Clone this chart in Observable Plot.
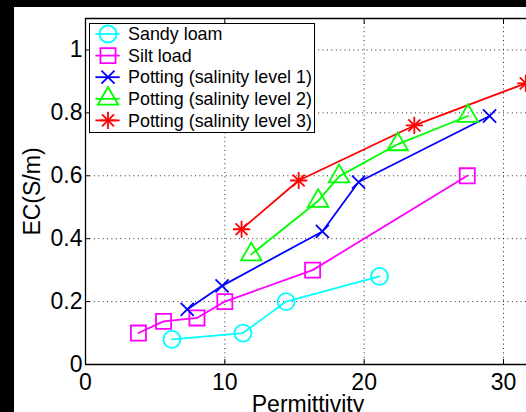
<!DOCTYPE html>
<html><head><meta charset="utf-8">
<script src="https://cdn.jsdelivr.net/npm/d3@7"></script>
<script src="https://cdn.jsdelivr.net/npm/@observablehq/plot@0.6"></script>
<style>
html,body{margin:0;padding:0;background:#000;overflow:hidden;width:526px;height:412px;}
#fig{position:absolute;left:14px;top:7px;width:512px;height:405px;background:#fff;}
#legend{position:absolute;left:89px;top:23px;width:226px;height:110px;box-sizing:border-box;border:1.3px solid #000;background:#fff;}
#legend svg{display:block;}
</style></head><body>
<div id="fig"></div>
<div id="legend"></div>
<script>
// ---- data ----
const seriesNames = ["Sandy loam", "Silt load", "Potting (salinity level 1)", "Potting (salinity level 2)", "Potting (salinity level 3)"];
const seriesColors = ["#00ffff", "#ff00ff", "#0000ff", "#00ff00", "#ff0000"];

const sandyX = [6.2, 11.3, 14.4, 21.1];
const sandyY = [0.08, 0.10, 0.20, 0.28];
const siltX = [3.8, 5.6, 8.0, 10.0, 16.3, 27.4];
const siltY = [0.10, 0.137, 0.148, 0.20, 0.30, 0.60];
const pot1X = [7.3, 9.8, 17.0, 19.6, 29.0];
const pot1Y = [0.175, 0.25, 0.423, 0.58, 0.79];
const pot2X = [11.9, 16.7, 18.2, 22.4, 27.45];
const pot2Y = [0.35, 0.52, 0.598, 0.70, 0.79];
const pot3X = [11.2, 15.3, 23.6, 31.6];
const pot3Y = [0.43, 0.585, 0.76, 0.894];

const xTicks = [0, 10, 20, 30];
const yTicks = [0, 0.2, 0.4, 0.6, 0.8, 1];
const xLabel = "Permittivity";
const yLabel = "EC(S/m)";

// ---- build table ----
const allX = [sandyX, siltX, pot1X, pot2X, pot3X];
const allY = [sandyY, siltY, pot1Y, pot2Y, pot3Y];
const data = seriesNames.flatMap((name, s) => allX[s].map((x, i) => ({series: name, x, y: allY[s][i]})));
const of = name => data.filter(d => d.series === name);

// marker styles per series (symbol layers)
const markerStyles = [
  [{symbol: "circle", r: 8.5}],
  [{symbol: "square", r: 8.5}],
  [{symbol: "times", r: 6}],
  [{symbol: "triangle", r: 7.6}],
  [{symbol: "plus", r: 5.6}, {symbol: "times", r: 5.5}]
];

const FONT = '"Liberation Sans", Arial, Helvetica, sans-serif';
const dotted = {stroke: "#000", strokeWidth: 1, strokeDasharray: "1,3.4", strokeOpacity: 0.85};

const marks = [
  Plot.ruleX(xTicks.filter(d => d > 0), dotted),
  Plot.ruleY(yTicks.filter(d => d > 0), dotted),
  Plot.line(data, {x: "x", y: "y", z: "series", stroke: "series", strokeWidth: 1.8}),
];
seriesNames.forEach((name, s) => {
  markerStyles[s].forEach(m => {
    marks.push(Plot.dot(of(name), {x: "x", y: "y", stroke: "series", fill: "none", symbol: m.symbol, r: m.r, strokeWidth: 1.8}));
  });
});
marks.push(
  Plot.ruleX([0], {stroke: "#000", strokeWidth: 1.3}),
  Plot.ruleY([0], {stroke: "#000", strokeWidth: 1.3}),
  Plot.ruleY([1.1], {stroke: "#000", strokeWidth: 1.3}),
  Plot.axisX({ticks: xTicks, tickSize: -5, tickPadding: 14, fontSize: 23, label: null, tickFormat: d => String(d)}),
  Plot.axisX({anchor: "top", ticks: xTicks, tickSize: -5, label: null, tickFormat: () => ""}),
  Plot.axisY({ticks: yTicks, tickSize: -5, tickPadding: 8, fontSize: 23, label: null, tickFormat: d => String(d)}),
  Plot.text([yLabel], {frameAnchor: "left", rotate: -90, dx: -46, lineAnchor: "bottom", textAnchor: "middle", fontSize: 23, fill: "#000"}),
  Plot.text([xLabel], {frameAnchor: "bottom", dx: 2, dy: 47, lineAnchor: "bottom", textAnchor: "middle", fontSize: 23, fill: "#000"})
);

const chart = Plot.plot({
  width: 512,
  height: 405,
  marginLeft: 71,
  marginRight: 0,
  marginTop: 11,
  marginBottom: 48,
  style: {fontFamily: FONT, fontSize: "23px", background: "white", color: "#000", overflow: "visible"},
  x: {domain: [0, 30], range: [71, 489]},
  y: {domain: [0, 1.1], range: [357, 11]},
  color: {domain: seriesNames, range: seriesColors},
  marks
});
document.getElementById("fig").appendChild(chart);

// ---- legend ----
const lg = d3.select("#legend").append("svg").attr("width", 224).attr("height", 108)
  .style("font-family", FONT).style("font-size", "17.9px");
seriesNames.forEach((name, s) => {
  const cy = 10 + s * 21.6;
  const g = lg.append("g").attr("transform", `translate(0,${cy})`);
  g.append("line").attr("x1", 5.4).attr("x2", 29.7).attr("y1", 0).attr("y2", 0)
    .attr("stroke", seriesColors[s]).attr("stroke-width", 1.8);
  const symMap = {circle: d3.symbolCircle, square: d3.symbolSquare, times: d3.symbolTimes, triangle: d3.symbolTriangle, plus: d3.symbolPlus};
  markerStyles[s].forEach(m => {
    g.append("path").attr("transform", "translate(18,0)")
      .attr("d", d3.symbol(symMap[m.symbol], Math.PI * m.r * m.r)())
      .attr("fill", "none").attr("stroke", seriesColors[s]).attr("stroke-width", 1.8);
  });
  g.append("text").attr("x", 38).attr("y", 0).attr("dy", "0.35em").attr("fill", "#000").text(name);
});
</script>
</body></html>
